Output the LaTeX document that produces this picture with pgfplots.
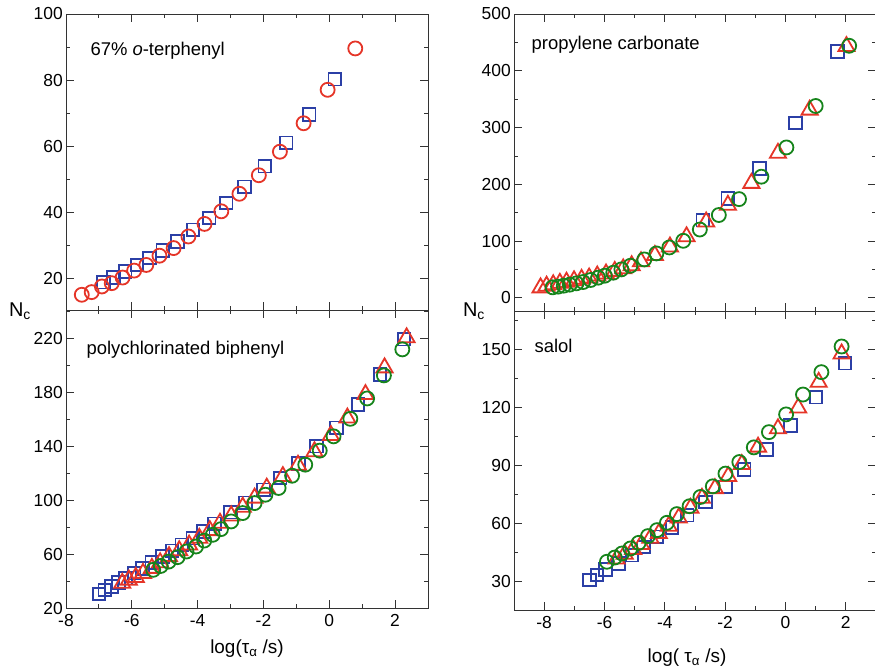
\documentclass[border=0pt]{standalone}
\usepackage{fontspec}
\setmainfont{Liberation Sans}
\usepackage{pgfplots}
\pgfplotsset{compat=1.18}
\definecolor{cred}{HTML}{E53528}
\definecolor{cblue}{HTML}{2B3FA6}
\definecolor{cgreen}{HTML}{16841B}
\pgfplotsset{
  panel/.style={scale only axis, width=362bp,
    tick align=inside, tick pos=both, xticklabel pos=lower, yticklabel pos=left,
    major tick length=8bp, minor tick length=4bp,
    axis line style={black!80, line width=0.9bp},
    tick style={black!80, line width=0.9bp},
    tick label style={font=\fontsize{17.5}{20}\selectfont},
    yticklabel style={inner sep=2bp, xshift=-1bp},
    xticklabel style={yshift=-3bp},
    /pgf/number format/assume math mode=true,
    clip=false},
  sq/.style={only marks, mark=square, mark size=6.3bp, mark options={draw=cblue, line width=1.8bp, fill=none}},
  tr/.style={only marks, mark=triangle, mark size=9.3bp, mark options={draw=cred, line width=1.8bp, fill=none}},
  crR/.style={only marks, mark=o, mark size=7bp, mark options={draw=cred, line width=1.8bp, fill=none}},
  crG/.style={only marks, mark=o, mark size=7bp, mark options={draw=cgreen, line width=1.8bp, fill=none}},
}
\begin{document}
\begin{tikzpicture}
\useasboundingbox (0bp,0bp) rectangle (875bp,671bp);

% top-left: o-terphenyl
\begin{axis}[panel, at={(66bp,361bp)}, anchor=south west, height=296bp,
  xmin=-8, xmax=3, ymin=10.6, ymax=100,
  xtick={-8,-6,...,2}, minor xtick={-7,-5,-3,-1,1}, xticklabels={},
  ytick={20,40,...,100}, minor ytick={10,30,50,70,90}]
\addplot[sq] coordinates {(-6.86,19.0) (-6.56,20.4) (-6.20,22.2) (-5.84,24.2) (-5.46,26.3) (-5.06,28.6) (-4.61,31.3) (-4.14,34.8) (-3.65,38.4) (-3.13,42.9) (-2.57,47.8) (-1.96,54.0) (-1.31,61.1) (-0.61,69.7) (0.17,80.3)};
\addplot[crR] coordinates {(-7.52,15.2) (-7.22,16.0) (-6.91,17.7) (-6.61,18.7) (-6.28,20.4) (-5.93,22.5) (-5.56,24.2) (-5.16,27.0) (-4.73,29.3) (-4.28,32.8) (-3.79,36.6) (-3.28,40.4) (-2.73,45.7) (-2.14,51.3) (-1.50,58.4) (-0.78,67.0) (-0.05,77.1) (0.79,89.6)};
\node[anchor=base west, font=\fontsize{18.5}{20}\selectfont] at (rel axis cs:0.058,0.861) {67\% \textit{o}-terphenyl};
\end{axis}

% bottom-left: polychlorinated biphenyl
\begin{axis}[panel, at={(66bp,63bp)}, anchor=south west, height=298bp,
  xmin=-8, xmax=3, ymin=20, ymax=241,
  xtick={-8,-6,...,2}, minor xtick={-7,-5,-3,-1,1},
  ytick={20,60,...,220}, minor ytick={40,80,...,240}]
\addplot[sq] coordinates {(-7.00,30.4) (-6.82,33.4) (-6.62,35.9) (-6.41,38.9) (-6.19,42.1) (-5.93,45.8) (-5.68,49.2) (-5.39,53.7) (-5.07,58.2) (-4.78,62.4) (-4.48,66.8) (-4.15,71.8) (-3.83,76.7) (-3.49,82.5) (-3.00,91) (-2.55,98) (-2.00,107.7) (-1.49,116.4) (-0.93,127.1) (-0.39,140.0) (0.22,153.6) (0.87,170.9) (1.54,193.2) (2.27,219.3)};
\addplot[tr] coordinates {(-6.29,38.4) (-6.09,40.8) (-5.88,42.8) (-5.66,45.8) (-5.39,49.5) (-5.14,53.7) (-4.87,58.2) (-4.56,62.6) (-4.26,66.8) (-3.95,71.8) (-3.63,77.5) (-3.32,83) (-2.98,88.4) (-2.63,94.9) (-2.27,101.6) (-1.90,109) (-1.41,117.6) (-0.95,126) (-0.45,136) (0.05,148) (0.55,161) (1.10,178.4) (1.68,198.2) (2.35,220.5)};
\addplot[crG] coordinates {(-5.35,48.3) (-5.12,51.2) (-4.88,54.4) (-4.61,57.7) (-4.34,61.9) (-4.05,65.6) (-3.80,70.0) (-3.54,74.3) (-3.29,78.5) (-2.98,84.2) (-2.63,90.4) (-2.27,97.8) (-1.94,104) (-1.54,109) (-1.13,118.1) (-0.73,126.3) (-0.29,136.7) (0.13,147.3) (0.64,160.3) (1.15,175.4) (1.66,192.5) (2.22,211.8)};
\node[anchor=base west, font=\fontsize{18.5}{20}\selectfont] at (rel axis cs:0.047,0.852) {polychlorinated biphenyl};
\end{axis}

% top-right: propylene carbonate
\begin{axis}[panel, at={(514bp,360bp)}, anchor=south west, height=297bp,
  xmin=-9, xmax=3, ymin=-23, ymax=500,
  xtick={-8,-6,...,2}, minor xtick={-7,-5,-3,-1,1}, xticklabels={},
  ytick={0,100,...,500}, minor ytick={50,150,...,450}]
\addplot[sq] coordinates {(-2.74,137) (-1.91,175) (-0.86,228) (0.33,308) (1.72,434)};
\addplot[tr] coordinates {(-8.12,18) (-7.92,21) (-7.70,23.5) (-7.48,26) (-7.26,28) (-7.01,30.5) (-6.76,33) (-6.51,35.5) (-6.24,39) (-5.95,42.5) (-5.66,47) (-5.38,51.5) (-5.10,57) (-4.79,64) (-4.33,75) (-3.83,90) (-3.28,108) (-2.63,134) (-1.91,163.5) (-1.13,202) (-0.25,255) (0.80,331) (2.02,443)};
\addplot[crG] coordinates {(-7.72,18.7) (-7.54,19.9) (-7.35,21.6) (-7.15,23.4) (-6.93,25.7) (-6.71,28) (-6.46,31.6) (-6.21,35.7) (-5.99,39.2) (-5.71,44.4) (-5.44,50.3) (-5.14,56.7) (-4.68,67.8) (-4.28,78.4) (-3.85,88.9) (-3.39,100.6) (-2.84,120.5) (-2.21,146) (-1.54,174) (-0.80,213.5) (0.03,265) (1.00,338) (2.11,444)};
\node[anchor=base west, font=\fontsize{18.5}{20}\selectfont] at (rel axis cs:0.039,0.879) {propylene carbonate};
\end{axis}

% bottom-right: salol
\begin{axis}[panel, at={(514bp,61bp)}, anchor=south west, height=299bp,
  xmin=-9, xmax=3, ymin=15, ymax=170,
  xtick={-8,-6,...,2}, minor xtick={-7,-5,-3,-1,1},
  ytick={30,60,...,150}, minor ytick={15,45,...,165}]
\addplot[sq] coordinates {(-6.50,30.5) (-6.25,33.1) (-5.97,36.0) (-5.53,39.2) (-5.09,43.4) (-4.70,47.7) (-4.26,52.9) (-3.76,57.8) (-3.26,64.1) (-2.65,71) (-1.99,78.8) (-1.37,87.8) (-0.63,98.1) (0.17,110.7) (1.01,125.3) (1.97,142.9)};
\addplot[tr] coordinates {(-5.60,41.5) (-5.33,44) (-5.05,46.5) (-4.78,49) (-4.48,52.3) (-4.20,54.7) (-3.87,58.5) (-3.54,62.8) (-3.15,67.8) (-2.77,73) (-2.34,78) (-1.90,84.3) (-1.45,90.5) (-0.91,99.5) (-0.25,109) (0.42,119.8) (1.10,133.1) (1.86,147.8)};
\addplot[crG] coordinates {(-5.92,40) (-5.66,42.2) (-5.42,44.3) (-5.14,46.9) (-4.87,49.8) (-4.56,53.3) (-4.26,56.4) (-3.93,60.2) (-3.60,64.7) (-3.18,68.8) (-2.82,73.6) (-2.41,79.1) (-1.99,85.7) (-1.53,91.7) (-1.05,99.3) (-0.55,107.2) (0.02,116.4) (0.58,126.7) (1.19,138.3) (1.86,151.6)};
\node[anchor=base west, font=\fontsize{18.5}{20}\selectfont] at (rel axis cs:0.047,0.86) {salol};
\end{axis}

% axis labels
\node[font=\fontsize{20}{22}\selectfont] at (20bp,360bp) {N\textsubscript{c}};
\node[font=\fontsize{20}{22}\selectfont] at (474bp,360bp) {N\textsubscript{c}};
\node[font=\fontsize{19}{22}\selectfont] at (247bp,22bp) {log(τ\textsubscript{α} /s)};
\node[font=\fontsize{19}{22}\selectfont] at (687bp,13bp) {log( τ\textsubscript{α} /s)};
\end{tikzpicture}
\end{document}
